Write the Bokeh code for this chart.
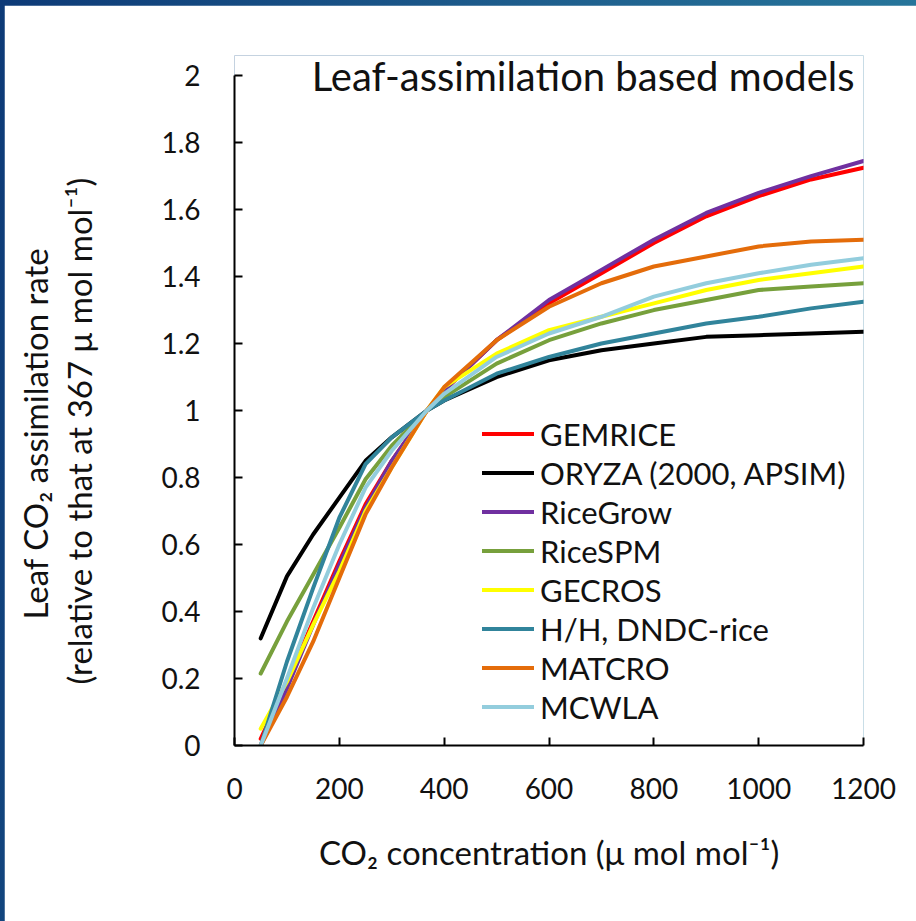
from bokeh.plotting import figure
from bokeh.models import Range1d, Label, Legend, LegendItem, FixedTicker, Column, Title
from bokeh.embed import file_html
from bokeh.resources import INLINE

# CO2 concentration (umol/mol) at which each model was evaluated
co2 = [50, 100, 150, 200, 250, 300, 367, 400, 500, 600, 700, 800, 900, 1000, 1100, 1200]

# Leaf CO2 assimilation rate relative to the rate at 367 umol/mol
gemrice  = [0.02, 0.19, 0.37, 0.55, 0.72, 0.85, 1.0, 1.06, 1.21, 1.32, 1.41, 1.50, 1.58, 1.64, 1.69, 1.725]
oryza    = [0.32, 0.505, 0.63, 0.74, 0.85, 0.92, 1.0, 1.03, 1.10, 1.15, 1.18, 1.20, 1.22, 1.225, 1.23, 1.235]
ricegrow = [0.00, 0.17, 0.36, 0.54, 0.71, 0.85, 1.0, 1.06, 1.21, 1.33, 1.42, 1.51, 1.59, 1.65, 1.70, 1.745]
ricespm  = [0.215, 0.37, 0.51, 0.65, 0.795, 0.895, 1.0, 1.04, 1.14, 1.21, 1.26, 1.30, 1.33, 1.36, 1.37, 1.38]
gecros   = [0.05, 0.19, 0.36, 0.52, 0.70, 0.83, 1.0, 1.07, 1.17, 1.24, 1.28, 1.32, 1.36, 1.39, 1.41, 1.43]
hh_dndc  = [0.00, 0.25, 0.47, 0.68, 0.84, 0.92, 1.0, 1.03, 1.11, 1.16, 1.20, 1.23, 1.26, 1.28, 1.305, 1.325]
matcro   = [0.00, 0.145, 0.31, 0.50, 0.69, 0.83, 1.0, 1.07, 1.21, 1.31, 1.38, 1.43, 1.46, 1.49, 1.505, 1.51]
mcwla    = [0.00, 0.20, 0.41, 0.60, 0.77, 0.88, 1.0, 1.05, 1.16, 1.23, 1.28, 1.34, 1.38, 1.41, 1.435, 1.455]

model_names = ["GEMRICE", "ORYZA (2000, APSIM)", "RiceGrow", "RiceSPM", "GECROS",
               "H/H, DNDC-rice", "MATCRO", "MCWLA"]
model_values = [gemrice, oryza, ricegrow, ricespm, gecros, hh_dndc, matcro, mcwla]
model_colors = ["#ff0000", "#000000", "#7030a0", "#77a03c", "#ffff00",
                "#31849b", "#e46c0a", "#93cddd"]

x_ticks = [0, 200, 400, 600, 800, 1000, 1200]
y_ticks = [0, 0.2, 0.4, 0.6, 0.8, 1.0, 1.2, 1.4, 1.6, 1.8, 2.0]
y_tick_labels = {0: "0", 0.2: "0.2", 0.4: "0.4", 0.6: "0.6", 0.8: "0.8", 1.0: "1",
                 1.2: "1.2", 1.4: "1.4", 1.6: "1.6", 1.8: "1.8", 2.0: "2"}

FONT = "Lato"
INK = "#111111"

p = figure(
    width=912, height=916,
    frame_width=629, frame_height=690,
    min_border_left=230, min_border_right=53, min_border_top=50, min_border_bottom=176,
    x_range=Range1d(0, 1200), y_range=Range1d(0, 2.06),
    output_backend="svg", toolbar_location=None,
)
p.outline_line_color = None
p.grid.visible = False
p.background_fill_color = "white"
p.border_fill_color = "white"

renderers = []
for name, vals, col in zip(model_names, model_values, model_colors):
    r = p.line(co2, vals, line_color=col, line_width=4, line_cap="round", line_join="round")
    renderers.append((name, r))

# axes
for ax in (p.xaxis[0], p.yaxis[0]):
    ax.axis_line_color = "black"
    ax.axis_line_width = 2
    ax.major_tick_line_color = "black"
    ax.major_tick_line_width = 2
    ax.major_tick_in = 8
    ax.major_tick_out = 0
    ax.minor_tick_line_color = None
    ax.major_label_text_font = FONT
    ax.major_label_text_font_size = "28px"
    ax.major_label_text_color = INK
    ax.axis_label_text_font = FONT
    ax.axis_label_text_font_style = "normal"
    ax.axis_label_text_color = INK

p.yaxis.bounds = (0, 2)
p.xaxis.ticker = FixedTicker(ticks=x_ticks)
p.yaxis.ticker = FixedTicker(ticks=y_ticks)
p.yaxis.major_label_overrides = y_tick_labels
p.xaxis.major_label_standoff = 32
p.yaxis.major_label_standoff = 34

p.xaxis.axis_label = "CO\u2082 concentration (\u03bc mol mol\u207b\u00b9)"
p.xaxis.axis_label_text_font_size = "33px"
p.xaxis.axis_label_standoff = 30

# gap between the y tick labels and the two-line y-axis title
p.add_layout(Title(text=" ", text_font_size="1px", standoff=56), "left")

# two-line y-axis title, inner line first
y_title_lines = ["(relative to that at 367 \u03bc mol mol\u207b\u00b9)",
                 "Leaf  CO\u2082 assimilation rate"]
y_title_offsets = [61, 126]
for txt, off in zip(y_title_lines, y_title_offsets):
    p.add_layout(Title(text=txt, align="left", offset=off, standoff=2,
                       text_font=FONT, text_font_size="33px", text_font_style="normal",
                       text_color=INK), "left")

# chart heading inside the plotting area
p.add_layout(Label(x=1183, y=2.0, text="Leaf-assimilation based models",
                   text_font=FONT, text_font_size="40px", text_color=INK,
                   text_align="right", text_baseline="alphabetic"))

legend = Legend(
    items=[LegendItem(label=n, renderers=[r]) for n, r in renderers],
    location=(248, 19),
    orientation="vertical",
    label_text_font=FONT, label_text_font_size="31px", label_text_color=INK,
    glyph_width=52, glyph_height=39, label_height=39, label_standoff=6,
    spacing=0, padding=0, margin=0,
    border_line_color=None, background_fill_alpha=0,
)
p.add_layout(legend, "center")

page = Column(p, styles={
    "background": "linear-gradient(100deg, #0d3a77 0%, #1e5e8d 50%, #2a7fa0 100%)",
    "padding": "5px 0px 0px 4px",
})

open("out.html", "w").write(file_html(page, INLINE))
